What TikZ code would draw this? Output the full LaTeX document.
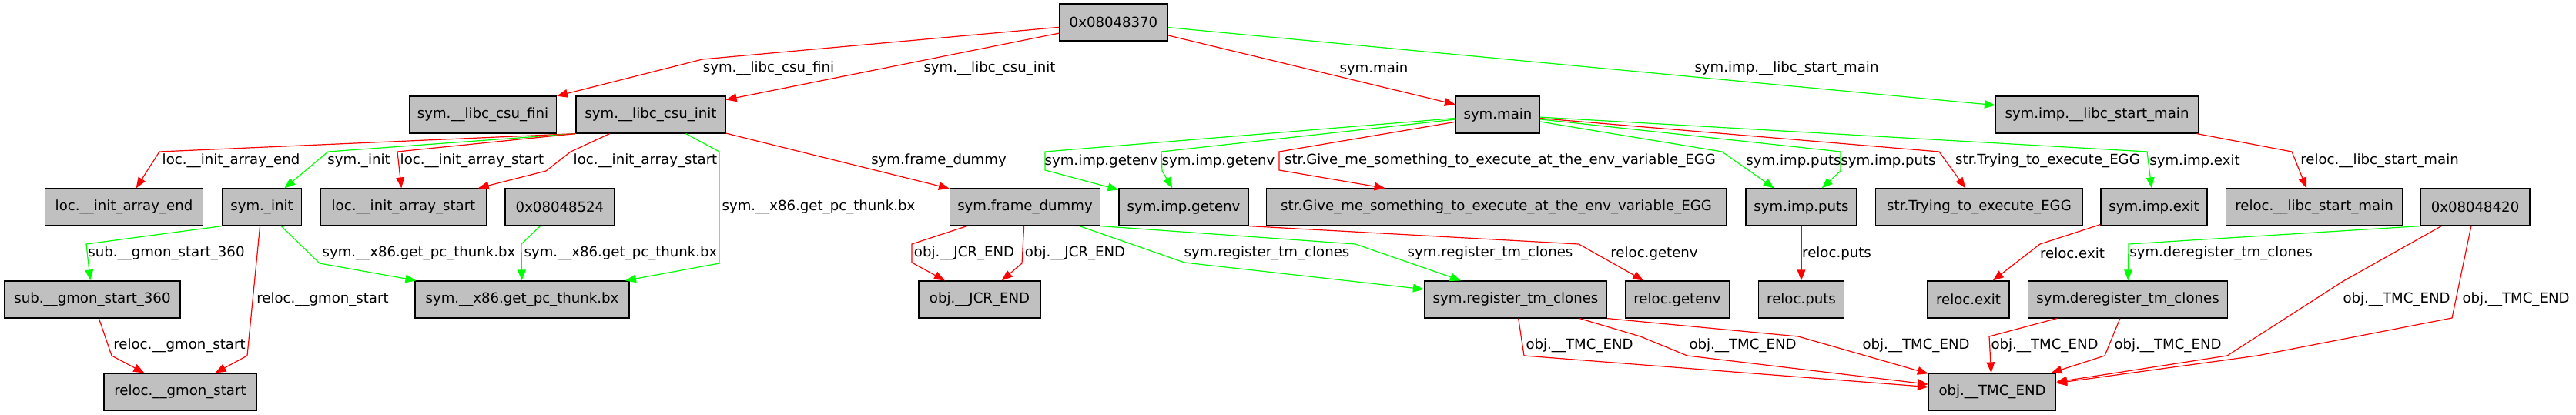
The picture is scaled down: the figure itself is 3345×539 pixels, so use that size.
\documentclass[tikz,border=0pt]{standalone}
\usepackage{fontspec}
\setmainfont{DejaVu Sans}
\usetikzlibrary{arrows.meta}

\definecolor{boxgray}{HTML}{C0C0C0}

\tikzset{
  box/.style={draw=black,fill=boxgray,line width=0.9pt,minimum height=36pt,
    minimum width=#1*0.75pt,inner xsep=3pt,inner ysep=0pt,font=\fontsize{13.6}{16}\selectfont},
  lbl/.style={inner sep=0pt,font=\fontsize{13.6}{16}\selectfont},
  redge/.style={draw=red,line width=0.9pt,-{Triangle[length=10.5pt,width=8pt]}},
  gedge/.style={draw=green,line width=0.9pt,-{Triangle[length=10.5pt,width=8pt]}}
}

\begin{document}
\begin{tikzpicture}[x=0.75pt,y=-0.75pt]

\fill[white] (0,0) rectangle (3345,539);
\useasboundingbox (0,0) rectangle (3345,539);

% Ligne 1
\node[box=141] (top) at (1446,29) {0x08048370};

% Ligne 2
\node[box=191] (fini) at (627,149) {sym.\_\_libc\_csu\_fini};
\node[box=194] (csuinit) at (845,149) {sym.\_\_libc\_csu\_init};
\node[box=109] (main) at (1945,149) {sym.main};
\node[box=263] (startmain) at (2723,149) {sym.imp.\_\_libc\_start\_main};

% Ligne 3
\node[box=205] (arrayend) at (161,269) {loc.\_\_init\_array\_end};
\node[box=103] (init) at (340,269) {sym.\_init};
\node[box=215] (arraystart) at (524,269) {loc.\_\_init\_array\_start};
\node[box=142] (a524) at (727,269) {0x08048524};
\node[box=195] (frame) at (1331,269) {sym.frame\_dummy};
\node[box=168] (getenv) at (1537,269) {sym.imp.getenv};
\node[box=597] (give) at (1943,269) {str.Give\_me\_something\_to\_execute\_at\_the\_env\_variable\_EGG};
\node[box=144] (puts) at (2339,269) {sym.imp.puts};
\node[box=269] (trying) at (2570,269) {str.Trying\_to\_execute\_EGG};
\node[box=138] (exit) at (2797,269) {sym.imp.exit};
\node[box=229] (rstartmain) at (3005,269) {reloc.\_\_libc\_start\_main};
\node[box=142] (a420) at (3214,269) {0x08048420};

% Ligne 4
\node[box=228] (gmon360) at (120,389) {sub.\_\_gmon\_start\_360};
\node[box=278] (thunk) at (678,389) {sym.\_\_x86.get\_pc\_thunk.bx};
\node[box=158] (jcr) at (1272,389) {obj.\_\_JCR\_END};
\node[box=237] (register) at (1968,389) {sym.register\_tm\_clones};
\node[box=135] (rgetenv) at (2178,389) {reloc.getenv};
\node[box=111] (rputs) at (2339,389) {reloc.puts};
\node[box=106] (rexit) at (2556,389) {reloc.exit};
\node[box=259] (deregister) at (2763,389) {sym.deregister\_tm\_clones};

% Ligne 5
\node[box=198] (rgmon) at (234,509) {reloc.\_\_gmon\_start};
\node[box=165] (tmc) at (2587,509) {obj.\_\_TMC\_END};

% Depuis 0x08048370
\draw[redge] (top) -- (912,77) -- (fini);
\draw[redge] (top) -- (csuinit);
\draw[redge] (top) -- (main);
\draw[gedge] (top) -- (startmain);

% Depuis sym.__libc_csu_init
\draw[redge] (csuinit.south west) -- (207,197) -- (arrayend);
\draw[gedge] (csuinit.south west) -- (426,197) -- (init);
\draw[redge] (csuinit.south west) -- (516,197) -- (arraystart);
\draw[redge] (csuinit) -- (741,197) -- (709,222) -- (arraystart);
\draw[gedge] (csuinit) -- (934,197) -- (934,342) -- (thunk);
\draw[redge] (csuinit) -- (frame);

% Depuis sym._init
\draw[gedge] (init.south west) -- (112,317) -- (gmon360);
\draw[redge] (init) -- (321,462) -- (rgmon);
\draw[gedge] (init) -- (415,342) -- (thunk);
\draw[gedge] (a524) -- (677,317) -- (thunk);
\draw[redge] (gmon360) -- (145,462) -- (rgmon);

% Depuis sym.frame_dummy
\draw[redge] (frame) -- (1184,317) -- (1184,341) -- (jcr);
\draw[redge] (frame) -- (1327,342) -- (jcr);
\draw[gedge] (frame) -- (1538,341) -- (register);
\draw[gedge] (frame.south east) -- (1760,317) -- (register);
\draw[redge] (getenv.south east) -- (2050,317) -- (rgetenv);

% Depuis sym.main
\draw[gedge] (main) -- (1357,197) -- (1357,221) -- (getenv);
\draw[gedge] (main) -- (1508,197) -- (1509,222) -- (getenv);
\draw[redge] (main) -- (1661,197) -- (1661,221) -- (give);
\draw[gedge] (main) -- (2236,197) -- (puts);
\draw[gedge] (main) -- (2390,197) -- (2390,222) -- (puts);
\draw[redge] (main) -- (2518,197) -- (trying);
\draw[gedge] (main) -- (2788,197) -- (exit);

% Droite
\draw[redge] (startmain) -- (2976,197) -- (rstartmain);
\draw[redge] (puts) -- (rputs);
\draw[redge] (exit) -- (2649,317) -- (rexit);
\draw[gedge] (a420.south west) -- (2764,317) -- (deregister);
\draw[redge] (a420) -- (3043,365) -- (2892,462) -- (tmc);
\draw[redge] (a420) -- (3184,413) -- (2931,462) -- (tmc);
\draw[redge] (deregister) -- (2583,437) -- (tmc);
\draw[redge] (deregister) -- (2733,462) -- (tmc);
\draw[redge] (register) -- (1979,462) -- (tmc);
\draw[redge] (register) -- (2130,437) -- (2191,462) -- (tmc);
\draw[redge] (register.south east) -- (2335,437) -- (tmc);

% Etiquettes
\node[lbl] (lab1) at (998,89) {sym.\_\_libc\_csu\_fini};
\node[lbl] (lab2) at (1285,89) {sym.\_\_libc\_csu\_init};
\node[lbl] (lab3) at (1784,89) {sym.main};
\node[lbl] (lab4) at (2320,89) {sym.imp.\_\_libc\_start\_main};

\node[lbl] (lab5) at (300,209) {loc.\_\_init\_array\_end};
\node[lbl] (lab6) at (466,209) {sym.\_init};
\node[lbl] (lab7) at (613,209) {loc.\_\_init\_array\_start};
\node[lbl] (lab8) at (838,209) {loc.\_\_init\_array\_start};
\node[lbl] (lab9) at (1219,209) {sym.frame\_dummy};
\node[lbl] (lab10) at (1430,209) {sym.imp.getenv};
\node[lbl] (lab11) at (1582,209) {sym.imp.getenv};
\node[lbl] (lab12) at (1948,209) {str.Give\_me\_something\_to\_execute\_at\_the\_env\_variable\_EGG};
\node[lbl] (lab13) at (2329,209) {sym.imp.puts};
\node[lbl] (lab14) at (2452,209) {sym.imp.puts};
\node[lbl] (lab15) at (2659,209) {str.Trying\_to\_execute\_EGG};
\node[lbl] (lab16) at (2850,209) {sym.imp.exit};
\node[lbl] (lab17) at (3090,209) {reloc.\_\_libc\_start\_main};

\node[lbl] (lab18) at (1063,269) {sym.\_\_x86.get\_pc\_thunk.bx};

\node[lbl] (lab19) at (216,329) {sub.\_\_gmon\_start\_360};
\node[lbl] (lab20) at (544,329) {sym.\_\_x86.get\_pc\_thunk.bx};
\node[lbl] (lab21) at (806,329) {sym.\_\_x86.get\_pc\_thunk.bx};
\node[lbl] (lab22) at (1252,329) {obj.\_\_JCR\_END};
\node[lbl] (lab23) at (1396,329) {obj.\_\_JCR\_END};
\node[lbl] (lab24) at (1645,329) {sym.register\_tm\_clones};
\node[lbl] (lab25) at (1935,329) {sym.register\_tm\_clones};
\node[lbl] (lab26) at (2148,329) {reloc.getenv};
\node[lbl] (lab27) at (2385,329) {reloc.puts};
\node[lbl] (lab28) at (2691,329) {reloc.exit};
\node[lbl] (lab29) at (2884,329) {sym.deregister\_tm\_clones};

\node[lbl] (lab30) at (419,389) {reloc.\_\_gmon\_start};
\node[lbl] (lab31) at (3112,389) {obj.\_\_TMC\_END};
\node[lbl] (lab32) at (3267,389) {obj.\_\_TMC\_END};

\node[lbl] (lab33) at (233,449) {reloc.\_\_gmon\_start};
\node[lbl] (lab34) at (2051,449) {obj.\_\_TMC\_END};
\node[lbl] (lab35) at (2263,449) {obj.\_\_TMC\_END};
\node[lbl] (lab36) at (2488,449) {obj.\_\_TMC\_END};
\node[lbl] (lab37) at (2655,449) {obj.\_\_TMC\_END};
\node[lbl] (lab38) at (2815,449) {obj.\_\_TMC\_END};

\end{tikzpicture}
\end{document}
